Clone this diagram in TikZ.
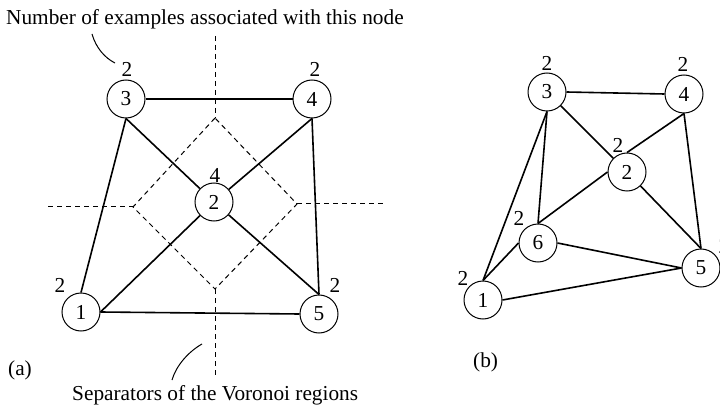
\documentclass[tikz,border=0pt]{standalone}
\usepackage{fontspec}
\setmainfont{Liberation Serif}
\begin{document}
\begin{tikzpicture}[x=1pt,y=-1pt,
  every node/.style={font=\fontsize{21.3}{25}\selectfont},
  vnode/.style={circle,draw,line width=1pt,minimum size=38pt,inner sep=0pt},
  lbl/.style={inner sep=0pt},
  txt/.style={inner sep=0pt,anchor=base west},
  edge/.style={line width=1.6pt},
  sep/.style={dashed,line width=1pt,dash pattern=on 5pt off 4pt},
  ptr/.style={line width=1pt}]
\useasboundingbox (0,0) rectangle (720,406);
% ---------- (a) ----------
\node[vnode] (a3) at (126,99) {3};
\node[vnode] (a4) at (312,99) {4};
\node[vnode] (a2) at (214,202) {2};
\node[vnode] (a1) at (81,312) {1};
\node[vnode] (a5) at (319,314) {5};
\node[lbl] (la3) at (127,69) {2};
\node[lbl] (la4) at (315,69) {2};
\node[lbl] (la2) at (215,175) {4};
\node[lbl] (la1) at (60,285) {2};
\node[lbl] (la5) at (335,285) {2};
% separators
\coordinate (dtop) at (215,36);
\coordinate (dt) at (215,118);
\coordinate (dl) at (133,207);
\coordinate (db) at (215,289);
\coordinate (dr) at (297,204);
\coordinate (dll) at (48,207);
\coordinate (drr) at (385,204);
\coordinate (dbot) at (215,377);
\draw[sep] (dtop) -- (dt);
\draw[sep] (dt) -- (dl) -- (db) -- (dr) -- cycle;
\draw[sep] (dll) -- (dl);
\draw[sep] (dr) -- (drr);
\draw[sep] (db) -- (dbot);
% edges
\draw[edge] (a3.east) -- (a4.west);
\draw[edge] (a3.south) -- (a1.north);
\draw[edge] (a3.south) -- (a2);
\draw[edge] (a4.south) -- (a2);
\draw[edge] (a4.south) -- (a5.north);
\draw[edge] (a2) -- (a1.east);
\draw[edge] (a2) -- (a5.north);
\draw[edge] (a1.east) -- (a5.west);
% texts and pointers
\node[txt] (tnum) at (6,25) {Number of examples associated with this node};
\node[txt] (tsep) at (72,400) {Separators of the Voronoi regions};
\node[txt] (ta) at (8,375) {(a)};
\coordinate (p1s) at (92,34);
\coordinate (p1e) at (115,63);
\draw[ptr] (p1s) .. controls (96,48) and (105,58) .. (p1e);
\coordinate (p2s) at (172,380);
\coordinate (p2e) at (202,344);
\draw[ptr] (p2s) .. controls (176,366) and (188,352) .. (p2e);
% ---------- (b) ----------
\node[vnode] (b3) at (547,92) {3};
\node[vnode] (b4) at (684,94) {4};
\node[vnode] (b2) at (627,172) {2};
\node[vnode] (b6) at (538,243) {6};
\node[vnode] (b5) at (701,268) {5};
\node[vnode] (b1) at (483,300) {1};
\node[lbl] (lb3) at (547,63) {2};
\node[lbl] (lb4) at (683,64) {2};
\node[lbl] (lb2) at (618,145) {2};
\node[lbl] (lb6) at (519,218) {2};
\node[lbl] (lb1) at (463,278) {2};
\node[lbl] (lb5) at (724,246) {2};
\draw[edge] (b3.east) -- (b4.west);
\draw[edge] (b3) -- (b2);
\draw[edge] (b3.south) -- (b6.north);
\draw[edge] (b3.south) -- (b1.north);
\draw[edge] (b4.south) -- (b2.north);
\draw[edge] (b4.south) -- (b5.north);
\draw[edge] (b2.west) -- (b6.north);
\draw[edge] (b2) -- (b5.north);
\draw[edge] (b6.east) -- (b5.west);
\draw[edge] (b6.west) -- (b1.north);
\draw[edge] (b1.east) -- (b5.west);
\node[txt] (tb) at (473,367) {(b)};
\end{tikzpicture}
\end{document}
